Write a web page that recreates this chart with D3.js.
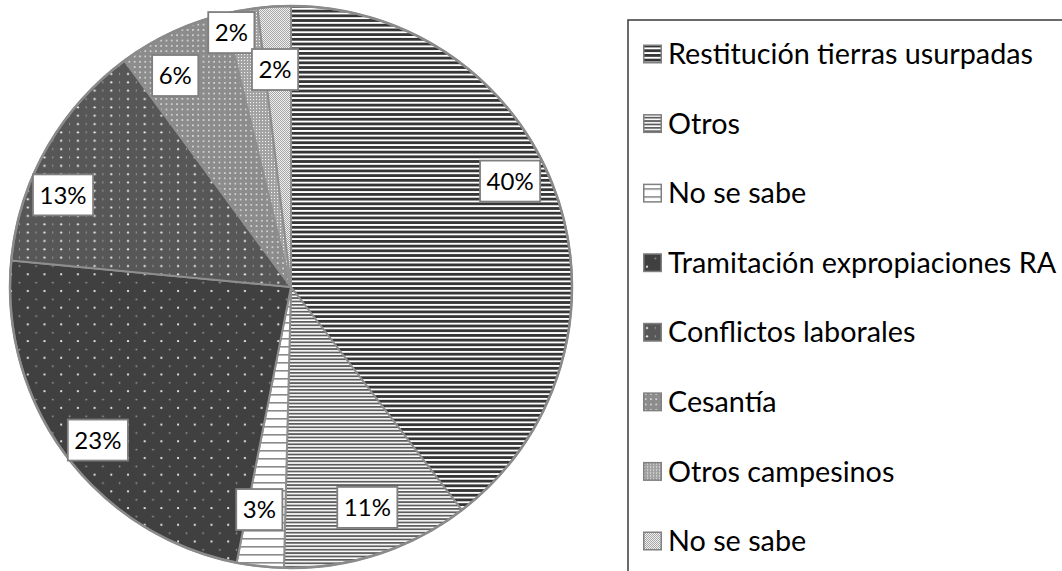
<!DOCTYPE html>
<html><head><meta charset="utf-8">
<script src="https://cdn.jsdelivr.net/npm/d3@7"></script>
<style>body{margin:0;background:#fff}svg{display:block}</style>
</head><body>
<svg id="c" width="1062" height="571"></svg>
<script>
// ---- data ----
const categories = ["Restitución tierras usurpadas","Otros","No se sabe","Tramitación expropiaciones RA","Conflictos laborales","Cesantía","Otros campesinos","No se sabe"];
const values = [39.6,10.8,2.7,23.4,13.4,6.3,1.9,1.9];
// label placement (layout): polar angle in degrees clockwise from top, radius fraction
const labelAngles = [64.2,160.9,188.1,231.6,292.0,331.3,346.8,355.8];
const labelRadii = [0.866,0.83,0.80,0.877,0.875,0.858,0.93,0.776];

const FONT = "Lato, 'Open Sans', sans-serif";
const svg = d3.select("#c");
const defs = svg.append("defs");

// ---- patterns ----
function pat(id, w, h, draw) {
  const p = defs.append("pattern").attr("id", id).attr("patternUnits", "userSpaceOnUse")
    .attr("width", w).attr("height", h);
  draw(p);
}
pat("p0", 8, 4.7, p => {
  p.append("rect").attr("width", 8).attr("height", 4.7).attr("fill", "#fff");
  p.append("rect").attr("y", 0).attr("width", 8).attr("height", 2.8).attr("fill", "#353535");
});
pat("p1", 8, 3.4, p => {
  p.append("rect").attr("width", 8).attr("height", 3.4).attr("fill", "#fff");
  p.append("rect").attr("width", 8).attr("height", 1.8).attr("fill", "#5e5e5e");
});
pat("p2", 8, 8, p => {
  p.append("rect").attr("width", 8).attr("height", 8).attr("fill", "#fff");
  p.append("rect").attr("y", 3).attr("width", 8).attr("height", 1.6).attr("fill", "#8a8a8a");
});
pat("p3", 16.7, 16.7, p => {
  p.append("rect").attr("width", 16.7).attr("height", 16.7).attr("fill", "#404040");
  p.append("circle").attr("cx", 4).attr("cy", 4).attr("r", 1.1).attr("fill", "#f4f4f4");
  p.append("circle").attr("cx", 12.35).attr("cy", 12.35).attr("r", 0.9).attr("fill", "#a0a0a0");
});
pat("p4", 16.7, 8.35, p => {
  p.append("rect").attr("width", 16.7).attr("height", 8.35).attr("fill", "#575757");
  p.append("circle").attr("cx", 4).attr("cy", 4).attr("r", 1.1).attr("fill", "#f0f0f0");
  p.append("rect").attr("x", 11.9).attr("y", 3).attr("width", 0.9).attr("height", 2).attr("fill", "#a8a8a8");
});
pat("p5", 5.3, 5.3, p => {
  p.append("rect").attr("width", 5.3).attr("height", 5.3).attr("fill", "#8c8c8c");
  p.append("circle").attr("cx", 2.65).attr("cy", 2.65).attr("r", 0.95).attr("fill", "#e2e2e2");
});
pat("p6", 3, 3, p => {
  p.append("rect").attr("width", 3).attr("height", 3).attr("fill", "#a2a2a2");
  p.append("rect").attr("x", 1).attr("y", 1).attr("width", 1.1).attr("height", 1.1).attr("fill", "#f2f2f2");
});
pat("p7", 2, 2, p => {
  p.append("rect").attr("width", 2).attr("height", 2).attr("fill", "#f0f0f0");
  p.append("rect").attr("width", 1).attr("height", 1).attr("fill", "#a6a6a6");
  p.append("rect").attr("x", 1).attr("y", 1).attr("width", 1).attr("height", 1).attr("fill", "#a6a6a6");
});

// ---- pie ----
const cx = 291, cy = 287, r = 281;
const pie = d3.pie().sort(null).value(d => d);
const arcs = pie(values);
const arc = d3.arc().innerRadius(0).outerRadius(r);
const g = svg.append("g").attr("transform", `translate(${cx},${cy})`);
g.selectAll("path.slice").data(arcs).join("path").attr("class", "slice")
  .attr("d", arc)
  .attr("fill", (d, i) => `url(#p${i})`)
  .attr("stroke", "#8e8e8e").attr("stroke-width", 2).attr("stroke-linejoin", "round");
g.append("circle").attr("r", r).attr("fill", "none").attr("stroke", "#8a8a8a").attr("stroke-width", 2.5);

// ---- font sizing helper ----
function fitSize(text, base, target) {
  const t = svg.append("text").attr("font-family", FONT).attr("font-size", base).text(text);
  const w = t.node().getComputedTextLength();
  t.remove();
  return base * target / w;
}
const labelFs = 24;
const legendFs = fitSize(categories[0], 30, 365);

// ---- data labels ----
const lab = g.selectAll("g.lab").data(arcs).join("g").attr("class", "lab")
  .attr("transform", (d, i) => {
    const a = labelAngles[i] * Math.PI / 180, rr = labelRadii[i] * r;
    return `translate(${rr * Math.sin(a)},${-rr * Math.cos(a)})`;
  });
lab.each(function(d) {
  const s = d3.select(this);
  const txt = Math.round(d.value) + "%";
  const t = s.append("text").attr("font-family", FONT).attr("font-size", labelFs)
    .attr("text-anchor", "middle").attr("y", labelFs * 0.36).attr("fill", "#000").text(txt);
  const w = t.node().getComputedTextLength();
  s.insert("rect", "text").attr("x", -(w + 13) / 2).attr("y", -20.5)
    .attr("width", w + 13).attr("height", 41)
    .attr("fill", "#fff").attr("stroke", "#7f7f7f").attr("stroke-width", 1.8);
});

// ---- legend ----
svg.append("rect").attr("x", 628).attr("y", 20).attr("width", 600).attr("height", 700)
  .attr("fill", "none").attr("stroke", "#3a3a3a").attr("stroke-width", 1.5);
const yRow = d3.scalePoint().domain(d3.range(categories.length)).range([54, 541]);
const leg = svg.selectAll("g.leg").data(categories).join("g").attr("class", "leg")
  .attr("transform", (d, i) => `translate(643,${yRow(i)})`);
leg.append("rect").attr("x", 0.75).attr("y", -8.75).attr("width", 17.5).attr("height", 17.5)
  .attr("fill", (d, i) => `url(#p${i})`).attr("stroke", "#808080").attr("stroke-width", 1.5);
leg.append("text").attr("x", 25).attr("y", legendFs * 0.35)
  .attr("font-family", FONT).attr("font-size", legendFs).attr("fill", "#000")
  .text(d => d);
</script>
</body></html>
